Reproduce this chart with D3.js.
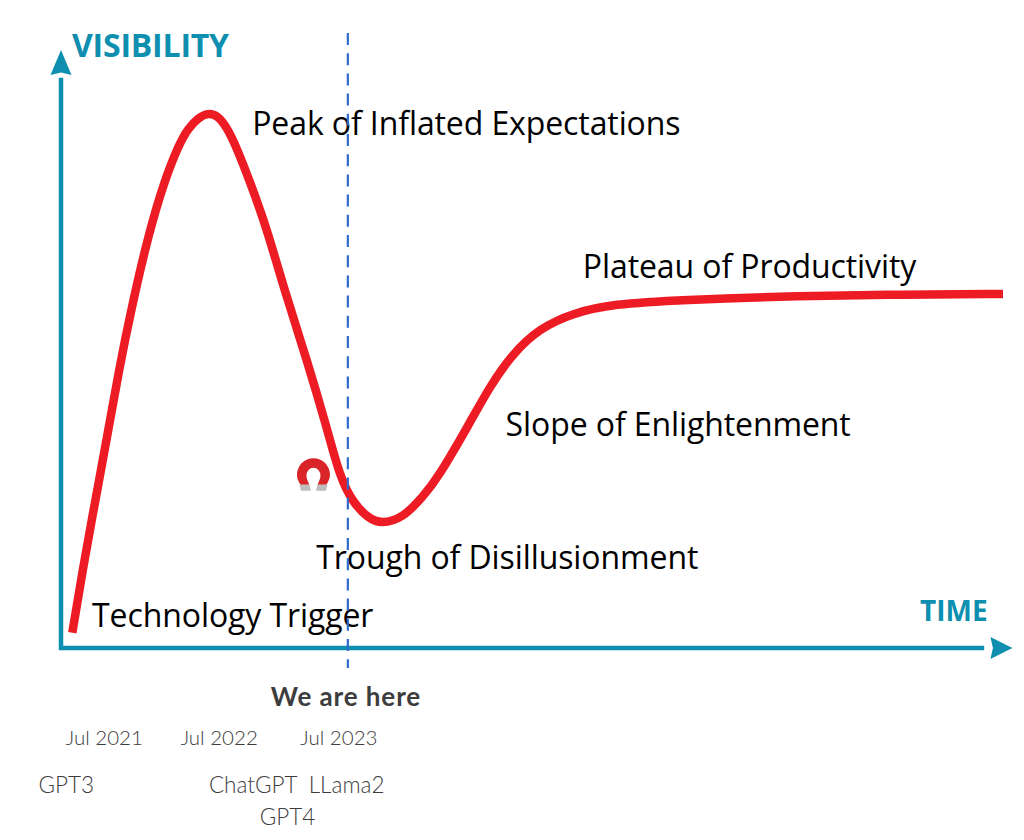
<!DOCTYPE html>
<html>
<head>
<meta charset="utf-8">
<script src="https://cdn.jsdelivr.net/npm/d3@7"></script>
<style>
  html, body { margin: 0; padding: 0; background: #fff; }
  svg { display: block; }
</style>
</head>
<body>
<div id="chart"></div>
<script>
// hype curve, both axes in percent of the plot
const curveTime = [1.2, 2.3, 3.6, 4.9, 6.1, 7.6, 9.3, 10.9, 12.5, 13.5, 14.6, 15.6, 16.6, 17.6, 18.7, 20.1, 21.8, 23.8, 26.1, 28.2, 29.6, 31.0, 32.6, 34.0, 36.3, 38.4, 40.0, 43.4, 45.5, 47.8, 50.8, 54.4, 58.6, 65.7, 78.5, 89.1, 100];
const curveVisibility = [2.6, 13.3, 24.7, 35.9, 46.9, 58.7, 70.4, 79.1, 85.6, 88.4, 90.2, 91.0, 90.6, 88.6, 84.9, 79.1, 71.6, 60.4, 49.0, 37.6, 29.1, 24.7, 22.1, 21.1, 22.1, 25.7, 28.9, 38.3, 44.4, 49.8, 54.4, 57.0, 58.5, 59.2, 59.9, 60.1, 60.2];

const phaseNames = ['Peak of Inflated Expectations', 'Plateau of Productivity', 'Slope of Enlightenment', 'Trough of Disillusionment', 'Technology Trigger'];
const phaseTime = [20.3, 55.4, 47.2, 27.1, 3.3];
const phaseVisibility = [87.2, 62.9, 36.1, 13.4, 3.6];

const dateLabels = ['Jul 2021', 'Jul 2022', 'Jul 2023'];
const dateTime = [0.5, 12.7, 25.4];
const modelLabels = ['GPT3', 'ChatGPT', 'LLama2', 'GPT4'];
const modelTime = [-2.4, 15.7, 26.3, 21.1];
const modelRow = [0, 0, 0, 1];

const nowTime = 30.45;
const magnetTime = 26.8;
const magnetVisibility = 29.3;

const config = {
  width: 1024,
  height: 840,
  left: 61,
  right: 1003,
  top: 60,
  bottom: 648,
  teal: '#0e8fb0',
  red: '#ed1c24',
  blue: '#2f6bcf',
  grey: '#3d3d3d'
};

const svg = d3.select('#chart')
  .append('svg')
  .attr('width', config.width)
  .attr('height', config.height);

const scaleX = d3.scaleLinear().domain([0, 100]).range([config.left, config.right]);
const scaleY = d3.scaleLinear().domain([0, 100]).range([config.bottom, config.top]);

// axes with arrow heads
const axisColor = config.teal;
svg.append('line')
  .attr('x1', scaleX(0)).attr('y1', scaleY(0) + 2)
  .attr('x2', scaleX(0)).attr('y2', scaleY(97))
  .attr('stroke', axisColor).attr('stroke-width', 4.5);
svg.append('line')
  .attr('x1', scaleX(0) - 2).attr('y1', scaleY(0))
  .attr('x2', scaleX(98)).attr('y2', scaleY(0))
  .attr('stroke', axisColor).attr('stroke-width', 4.5);

const tipY = scaleY(101.7);
svg.append('path')
  .attr('d', `M${scaleX(0)},${tipY}L${scaleX(0) + 10.5},${tipY + 25}L${scaleX(0)},${tipY + 22.5}L${scaleX(0) - 10.5},${tipY + 25}Z`)
  .attr('fill', axisColor);
const tipX = scaleX(101);
svg.append('path')
  .attr('d', `M${tipX},${scaleY(0)}L${tipX - 22},${scaleY(0) - 11}L${tipX - 19.5},${scaleY(0)}L${tipX - 22},${scaleY(0) + 11}Z`)
  .attr('fill', axisColor);

svg.append('text')
  .attr('x', 72).attr('y', 57)
  .attr('font-family', '"Open Sans", sans-serif')
  .attr('font-weight', 700).attr('font-size', 32)
  .attr('letter-spacing', -0.2)
  .attr('fill', axisColor)
  .text('VISIBILITY');
svg.append('text')
  .attr('x', 920).attr('y', 621)
  .attr('font-family', '"Open Sans", sans-serif')
  .attr('font-weight', 700).attr('font-size', 28)
  .attr('fill', axisColor)
  .text('TIME');

// the curve
const line = d3.line()
  .x((d, i) => scaleX(curveTime[i]))
  .y((d, i) => scaleY(curveVisibility[i]))
  .curve(d3.curveBasis);

svg.append('path')
  .datum(curveTime)
  .attr('d', line)
  .attr('fill', 'none')
  .attr('stroke', config.red)
  .attr('stroke-width', 8.5);

// phase names
svg.selectAll('.phase')
  .data(phaseNames)
  .enter()
  .append('text')
  .attr('class', 'phase')
  .attr('x', (d, i) => scaleX(phaseTime[i]))
  .attr('y', (d, i) => scaleY(phaseVisibility[i]))
  .attr('font-family', '"Open Sans", sans-serif')
  .attr('font-size', 32)
  .attr('letter-spacing', -0.1)
  .attr('fill', '#000')
  .text(d => d);

// magnet
const magnet = svg.append('g')
  .attr('transform', `translate(${scaleX(magnetTime)}, ${scaleY(magnetVisibility)})`);
magnet.append('path')
  .attr('d', 'M-13,9 C-16,4 -16.5,1 -16.5,-1 A16.5,16.5 0 0 1 16.5,-1 C16.5,1 16,4 13,9 L4,9 C6,5 7,2 7,0 A7,8 0 0 0 -7,0 C-7,2 -6,5 -4,9 Z')
  .attr('fill', '#d9242a');
magnet.append('path')
  .attr('d', 'M-14,9 L-4,9 L-2.5,15 L-12.5,15 Z M4,9 L14,9 L12.5,15 L2.5,15 Z')
  .attr('fill', '#bdbdbd');

// we are here
svg.append('line')
  .attr('x1', scaleX(nowTime)).attr('y1', 33)
  .attr('x2', scaleX(nowTime)).attr('y2', 668)
  .attr('stroke', config.blue)
  .attr('stroke-width', 2.2)
  .attr('stroke-dasharray', '12,8.2');

svg.append('text')
  .attr('x', 346).attr('y', 706)
  .attr('text-anchor', 'middle')
  .attr('font-family', 'Lato, sans-serif')
  .attr('font-weight', 700).attr('font-size', 26)
  .attr('letter-spacing', 0.9)
  .attr('fill', config.grey)
  .text('We are here');

svg.selectAll('.date')
  .data(dateLabels)
  .enter()
  .append('text')
  .attr('class', 'date')
  .attr('x', (d, i) => scaleX(dateTime[i]))
  .attr('y', 745)
  .attr('font-family', 'Lato, sans-serif')
  .attr('font-weight', 300).attr('font-size', 20.5)
  .attr('fill', config.grey)
  .text(d => d);

svg.selectAll('.model')
  .data(modelLabels)
  .enter()
  .append('text')
  .attr('class', 'model')
  .attr('x', (d, i) => scaleX(modelTime[i]))
  .attr('y', (d, i) => 793 + modelRow[i] * 32)
  .attr('font-family', 'Lato, sans-serif')
  .attr('font-weight', 300).attr('font-size', 22.5)
  .attr('fill', config.grey)
  .text(d => d);
</script>
</body>
</html>
